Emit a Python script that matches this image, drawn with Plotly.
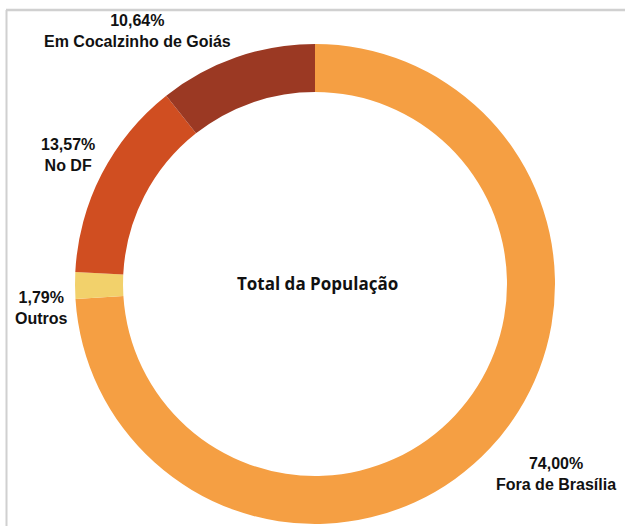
import plotly.graph_objects as go

# fatias no sentido horário a partir do topo
categorias = ['Fora de Brasília', 'Outros', 'No DF', 'Em Cocalzinho de Goiás']
percentuais = [74.00, 1.79, 13.57, 10.64]
rotulos_pct = ['74,00%', '1,79%', '13,57%', '10,64%']
cores = ['#F59F43', '#F2D16B', '#D04E21', '#9B3923']

W, H = 625, 526

fig = go.Figure(go.Pie(
	labels=categorias,
	values=percentuais,
	sort=False,
	direction='clockwise',
	hole=0.80,
	marker=dict(colors=cores, line=dict(width=0)),
	textinfo='none',
	hoverinfo='label+percent',
	domain=dict(x=[75 / W, 555 / W], y=[2 / H, 482 / H]),
	showlegend=False,
))

# posições dos rótulos (pixels na imagem)
pos_rotulos = [(556, 474), (41, 308), (68, 155), (137, 31)]

anots = []
for (px, py), pct, nome in zip(pos_rotulos, rotulos_pct, categorias):
	anots.append(dict(
		x=px / W, y=1 - py / H, xref='paper', yref='paper',
		text=f'<b>{pct}<br>{nome}</b>', showarrow=False,
		align='center', xanchor='center', yanchor='middle',
		font=dict(family='Liberation Sans, Arial, sans-serif', size=16, color='#111'),
	))
anots.append(dict(
	x=317 / W, y=1 - 283 / H, xref='paper', yref='paper',
	text='<b>Total da População</b>', showarrow=False,
	xanchor='center', yanchor='middle',
	font=dict(family='Open Sans, sans-serif', size=17, color='#111'),
))

fig.update_layout(
	width=W, height=H,
	margin=dict(l=0, r=0, t=0, b=0),
	paper_bgcolor='white', plot_bgcolor='white',
	annotations=anots,
	shapes=[
		dict(type='line', xref='paper', yref='paper', x0=6 / W, x1=1, y0=1 - 10 / H, y1=1 - 10 / H,
			line=dict(color='#d0d0d0', width=2.5)),
		dict(type='line', xref='paper', yref='paper', x0=6.5 / W, x1=6.5 / W, y0=0, y1=1 - 10 / H,
			line=dict(color='#d0d0d0', width=2)),
	],
)

fig.write_html('out.html', config={'displayModeBar': False},
	post_script="document.body.style.margin='0';document.body.style.overflow='hidden';")
